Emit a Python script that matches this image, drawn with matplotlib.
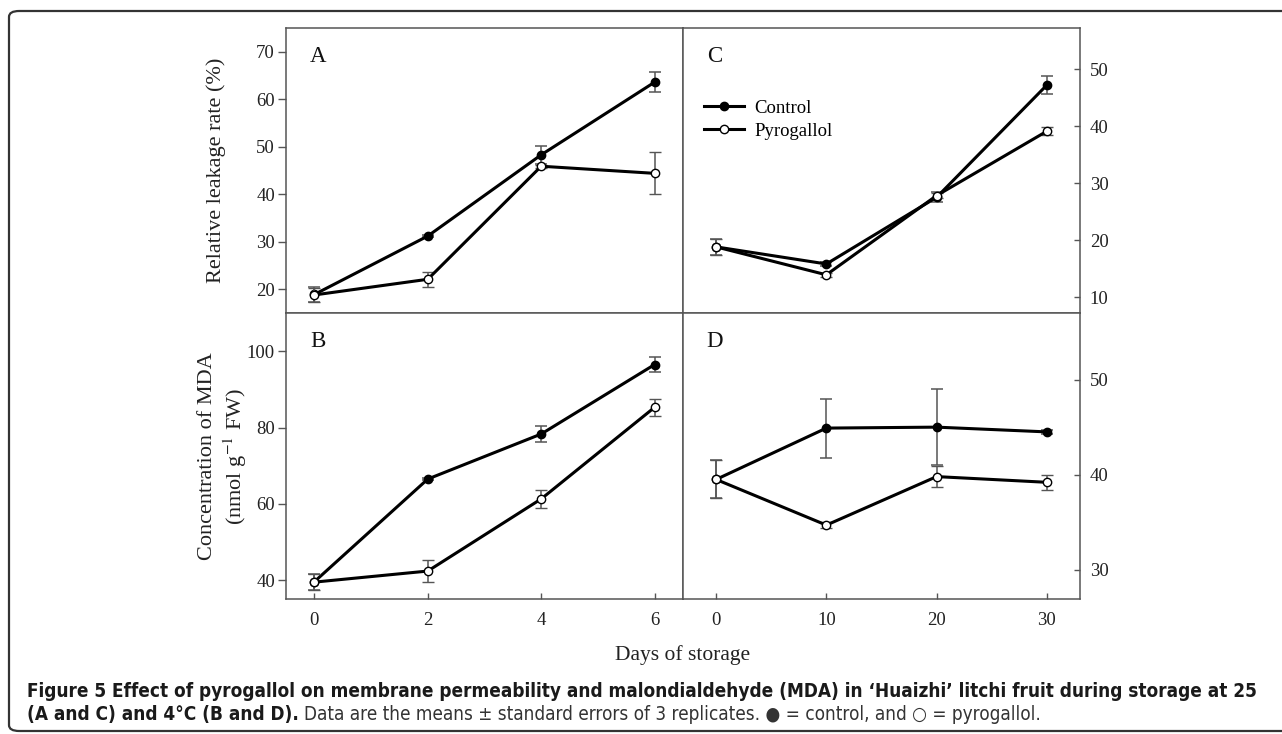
import matplotlib
matplotlib.use("Agg")
import matplotlib.pyplot as plt
from matplotlib.patches import FancyBboxPatch
from matplotlib.lines import Line2D

plt.rcParams['font.family'] = ['Liberation Serif', 'DejaVu Serif']
plt.rcParams['mathtext.fontset'] = 'stix'

# panel A: leakage rate, 25 C
days_warm = [0, 2, 4, 6]
leak_ctrl = [18.9, 31.2, 48.3, 63.6]
leak_ctrl_se = [1.5, 0.3, 1.9, 2.1]
leak_pyro = [18.8, 22.1, 45.9, 44.4]
leak_pyro_se = [1.5, 1.6, 0.3, 4.4]

# panel B: MDA, 25 C
mda_ctrl = [39.6, 66.5, 78.3, 96.5]
mda_ctrl_se = [2.1, 0.3, 2.0, 1.9]
mda_pyro = [39.5, 42.4, 61.3, 85.3]
mda_pyro_se = [2.1, 2.9, 2.4, 2.3]

# panel C: leakage rate, 4 C
days_cold = [0, 10, 20, 30]
leak_ctrl_c = [18.8, 15.8, 27.5, 47.2]
leak_ctrl_c_se = [1.4, 0.3, 0.9, 1.5]
leak_pyro_c = [18.8, 13.9, 27.8, 39.1]
leak_pyro_c_se = [1.4, 0.3, 0.5, 0.7]

# panel D: MDA, 4 C
mda_ctrl_c = [39.5, 44.9, 45.0, 44.5]
mda_ctrl_c_se = [2.0, 3.1, 4.0, 0.2]
mda_pyro_c = [39.5, 34.7, 39.8, 39.2]
mda_pyro_c_se = [2.0, 0.3, 1.1, 0.8]

fig = plt.figure(figsize=(12.82, 7.34), dpi=100)

W, H = 1282.0, 734.0
x0, xm, x1 = 286 / W, 683 / W, 1080 / W
y_top, y_mid, y_bot = 1 - 28 / H, 1 - 313 / H, 1 - 599.3 / H

axA = fig.add_axes([x0, y_mid, xm - x0, y_top - y_mid])
axB = fig.add_axes([x0, y_bot, xm - x0, y_mid - y_bot])
axC = fig.add_axes([xm, y_mid, x1 - xm, y_top - y_mid])
axD = fig.add_axes([xm, y_bot, x1 - xm, y_mid - y_bot])

spine_col = '#555555'
err_col = '#555555'


def draw(ax, x, yc, ec, yp, ep):
    ax.errorbar(x, yc, yerr=ec, color='black', ecolor=err_col, elinewidth=1.1,
                capsize=4, capthick=1.1, lw=2.2, marker='o', ms=6,
                mfc='black', mec='black', zorder=3)
    ax.errorbar(x, yp, yerr=ep, color='black', ecolor=err_col, elinewidth=1.1,
                capsize=4, capthick=1.1, lw=2.2, marker='o', ms=6,
                mfc='white', mec='black', mew=1, zorder=4)
    for s in ax.spines.values():
        s.set_color(spine_col)
        s.set_linewidth(1.1)


draw(axA, days_warm, leak_ctrl, leak_ctrl_se, leak_pyro, leak_pyro_se)
draw(axB, days_warm, mda_ctrl, mda_ctrl_se, mda_pyro, mda_pyro_se)
draw(axC, days_cold, leak_ctrl_c, leak_ctrl_c_se, leak_pyro_c, leak_pyro_c_se)
draw(axD, days_cold, mda_ctrl_c, mda_ctrl_c_se, mda_pyro_c, mda_pyro_c_se)

axA.set_xlim(-0.5, 6.5)
axB.set_xlim(-0.5, 6.5)
axC.set_xlim(-3, 33)
axD.set_xlim(-3, 33)
axA.set_ylim(15, 75)
axB.set_ylim(35, 110)
axC.set_ylim(7.2, 57.2)
axD.set_ylim(26.9, 57.0)

axA.set_yticks([20, 30, 40, 50, 60, 70])
axB.set_yticks([40, 60, 80, 100])
axC.set_yticks([10, 20, 30, 40, 50])
axD.set_yticks([30, 40, 50])
axB.set_xticks(days_warm)
axD.set_xticks(days_cold)
axA.set_xticks([])
axC.set_xticks([])

for ax in (axA, axB):
    ax.tick_params(axis='y', direction='out', length=6, width=1, color=spine_col,
                   labelsize=13.5, labelcolor='#222222', pad=2)
for ax in (axC, axD):
    ax.yaxis.tick_right()
    ax.tick_params(axis='y', direction='in', length=4, width=1, color=spine_col,
                   labelsize=13.5, labelcolor='#222222', pad=7,
                   left=False, right=True, labelleft=False, labelright=True)
for ax in (axB, axD):
    ax.tick_params(axis='x', direction='in', length=4, width=1, color=spine_col,
                   labelsize=13.5, labelcolor='#222222', pad=9)

for ax, lab in ((axA, 'A'), (axB, 'B'), (axC, 'C'), (axD, 'D')):
    ax.text(0.08, 0.88, lab, transform=ax.transAxes, fontsize=16.5,
            ha='center', va='baseline', color='#111111')

axA.set_ylabel('Relative leakage rate (%)', fontsize=16, color='#222222')
axB.set_ylabel('Concentration of MDA\n(nmol g$^{\\mathrm{-1}}$ FW)', fontsize=16,
               color='#222222', linespacing=1.25)
axA.yaxis.set_label_coords(-0.152, 0.5)
axB.yaxis.set_label_coords(-0.092, 0.5)

handles = [Line2D([], [], color='black', lw=2.2, marker='o', ms=6, mfc='black', mec='black'),
           Line2D([], [], color='black', lw=2.2, marker='o', ms=6, mfc='white', mec='black')]
axC.legend(handles, ['Control', 'Pyrogallol'], loc='upper left',
           bbox_to_anchor=(0.035, 0.775), frameon=False, fontsize=13.5,
           handlelength=2.1, handletextpad=0.55, labelspacing=0.3, borderaxespad=0)

fig.text(683 / W, 1 - 655 / H, 'Days of storage', fontsize=15.5, ha='center',
         va='center', color='#222222')

# outer frame with rounded left corners
frame = FancyBboxPatch((9 / W, 1 - 731 / H), 1.05, (731 - 11) / H,
                       boxstyle='round,pad=0,rounding_size=0.008',
                       transform=fig.transFigure, fill=False,
                       ec='#333333', lw=1.6, clip_on=False)
fig.patches.append(frame)

cap_font = ['Liberation Sans Narrow', 'DejaVu Sans']
cap_x = 27
line1 = ('Figure 5 Effect of pyrogallol on membrane permeability and malondialdehyde (MDA) '
         'in \u2018Huaizhi\u2019 litchi fruit during storage at 25')
t1 = fig.text(cap_x / W, 1 - 697 / H, line1, fontsize=14, fontweight='bold',
              family=cap_font, fontstretch='condensed', color='#1a1a1a',
              va='baseline', ha='left')
fig.canvas.draw()
# shrink caption so the first line fits the reference width
cap_size = 14 * 1235.0 / t1.get_window_extent().width
t1.set_fontsize(cap_size)
t2 = fig.text(cap_x / W, 1 - 720 / H, '(A and C) and 4\u00b0C (B and D).',
              fontsize=cap_size, fontweight='bold', family=cap_font,
              fontstretch='condensed', color='#1a1a1a', va='baseline', ha='left')
fig.canvas.draw()
bb = t2.get_window_extent()
fig.text((bb.x1 + 5) / W, 1 - 720 / H,
         'Data are the means \u00b1 standard errors of 3 replicates. \u25cf = control, and \u25cb = pyrogallol.',
         fontsize=cap_size, family=cap_font, fontstretch='condensed',
         color='#333333', va='baseline', ha='left')

fig.savefig('out.png', dpi=100)
